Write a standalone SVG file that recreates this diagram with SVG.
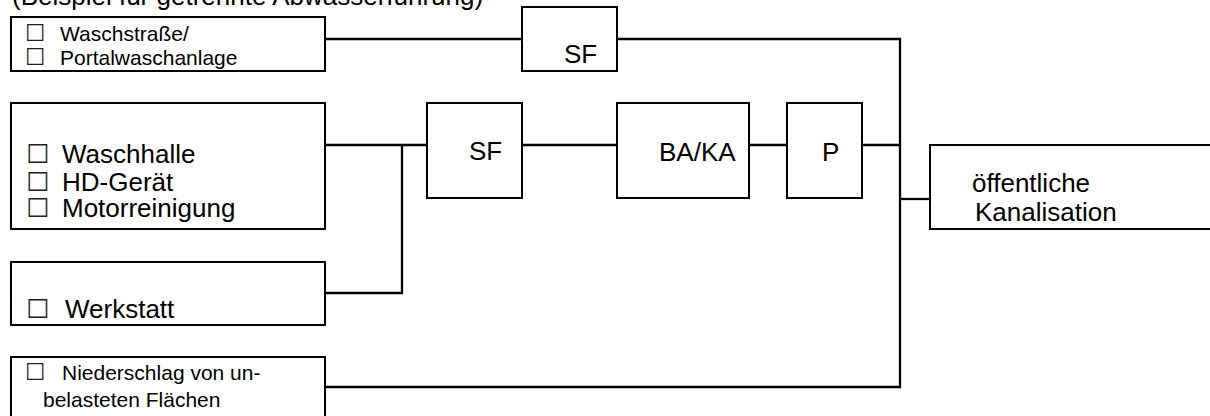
<svg xmlns="http://www.w3.org/2000/svg" width="1210" height="416" viewBox="0 0 1210 416">
<style>
.box{fill:none;stroke:#000;stroke-width:2}
.ln{fill:none;stroke:#000;stroke-width:2.3}
text{font-family:"Liberation Sans",Arial,sans-serif;fill:#000}
.big{font-size:26px}
.small{font-size:21px}
.cb{font-family:"DejaVu Sans",sans-serif;fill:#222;font-size:26px}
.cbs{font-family:"DejaVu Sans",sans-serif;fill:#222;font-size:23px}
</style>
<rect width="1210" height="416" fill="#fff"/>
<text id="title" class="big" x="12" y="5">(Beispiel für getrennte Abwasserführung)</text>
<g id="connectors">
<path class="ln" d="M325,39H522"/>
<path class="ln" d="M617,39H900V388"/>
<path class="ln" d="M325,387H901"/>
<path class="ln" d="M325,145H427"/>
<path class="ln" d="M402,145V293H325"/>
<path class="ln" d="M522,145H617"/>
<path class="ln" d="M749,145H787"/>
<path class="ln" d="M862,145H900"/>
<path class="ln" d="M900,199H930"/>
</g>
<g id="n-waschstrasse">
<rect class="box" x="11" y="17" width="314" height="54"/>
<text class="small" y="41"><tspan class="cbs" x="25">☐</tspan><tspan x="60">Waschstraße/</tspan></text>
<text class="small" y="65"><tspan class="cbs" x="25">☐</tspan><tspan x="60">Portalwaschanlage</tspan></text>
</g>
<g id="n-waschhalle">
<rect class="box" x="11" y="103" width="314" height="126"/>
<text class="big" y="163"><tspan class="cb" x="26">☐</tspan><tspan x="62">Waschhalle</tspan></text>
<text class="big" y="191"><tspan class="cb" x="26">☐</tspan><tspan x="62">HD-Gerät</tspan></text>
<text class="big" y="217"><tspan class="cb" x="26">☐</tspan><tspan x="62">Motorreinigung</tspan></text>
</g>
<g id="n-werkstatt">
<rect class="box" x="11" y="262" width="314" height="63"/>
<text class="big" y="318"><tspan class="cb" x="26">☐</tspan><tspan x="65">Werkstatt</tspan></text>
</g>
<g id="n-niederschlag">
<rect class="box" x="11" y="357" width="314" height="80"/>
<text class="small" y="380"><tspan class="cbs" x="25">☐</tspan><tspan x="62">Niederschlag von un-</tspan></text>
<text class="small" x="43" y="407">belasteten Flächen</text>
</g>
<g id="n-sf1">
<rect class="box" x="522" y="7" width="95" height="64"/>
<text class="big" x="564" y="63">SF</text>
</g>
<g id="n-sf2">
<rect class="box" x="427" y="103" width="95" height="95"/>
<text class="big" x="469" y="160">SF</text>
</g>
<g id="n-baka">
<rect class="box" x="617" y="103" width="132" height="95"/>
<text class="big" x="659" y="161">BA/KA</text>
</g>
<g id="n-p">
<rect class="box" x="787" y="103" width="75" height="95"/>
<text class="big" x="822" y="161">P</text>
</g>
<g id="n-kanal">
<rect class="box" x="930" y="145" width="300" height="84"/>
<text class="big" x="972" y="192">öffentliche</text>
<text class="big" x="975" y="221">Kanalisation</text>
</g>
</svg>
